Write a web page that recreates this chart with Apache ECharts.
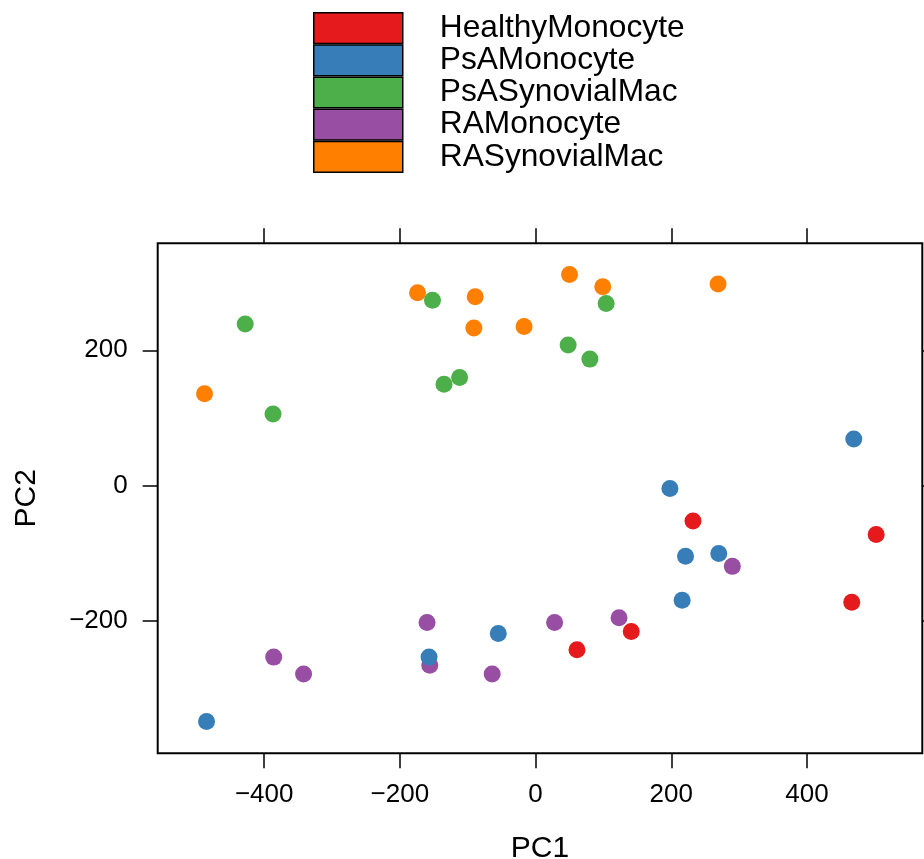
<!DOCTYPE html>
<html>
<head>
<meta charset="utf-8">
<script src="https://cdn.jsdelivr.net/npm/echarts@6/dist/echarts.min.js"></script>
<style>
  html, body { margin: 0; padding: 0; background: #fff; }
  #chart { width: 924px; height: 859px; }
</style>
</head>
<body>
<div id="chart"></div>
<script>
// groups in legend order
const groups = ['HealthyMonocyte', 'PsAMonocyte', 'PsASynovialMac', 'RAMonocyte', 'RASynovialMac'];
const colors = ['#E41A1C', '#377EB8', '#4DAF4A', '#984EA3', '#FF7F00'];

// [PC1, PC2] per sample
const healthyMonocyte = [[232, -52], [502, -72], [466, -172], [141, -215], [61, -242]];
const psaMonocyte = [[469, 69], [198, -4], [221, -104], [270, -100], [216, -169], [-55, -218], [-157, -253], [-485, -348]];
const psaSynovialMac = [[-428, 239], [-387, 106], [-152, 274], [-135, 150], [-112, 160], [48, 208], [80, 187], [104, 269]];
const raMonocyte = [[290, -119], [123, -195], [28, -202], [-160, -202], [-156, -265], [-64, -278], [-386, -253], [-342, -278]];
const raSynovialMac = [[-488, 136], [-174, 285], [-89, 279], [-91, 233], [-17, 235], [50, 312], [99, 294], [269, 298]];

const groupData = [healthyMonocyte, psaMonocyte, psaSynovialMac, raMonocyte, raSynovialMac];

const xTicks = [-400, -200, 0, 200, 400];
const yTicks = [-200, 0, 200];

const FONT = 'Liberation Sans';
const minusFmt = (v) => (v < 0 ? '\u2212' + Math.abs(v) : String(v));

const chart = echarts.init(document.getElementById('chart'), null, { renderer: 'canvas' });

// draw order: orange, green first so the monocytes sit on top
const drawOrder = [4, 2, 3, 1, 0];

const tickStyle = { color: '#000', width: 1.5 };

const option = {
  animation: false,
  textStyle: { fontFamily: FONT },
  color: colors,
  legend: {
    data: groups,
    orient: 'vertical',
    left: 313,
    top: 12,
    icon: 'rect',
    itemWidth: 89,
    itemHeight: 30.7,
    itemGap: 0,
    padding: 0,
    selectedMode: false,
    itemStyle: { borderColor: '#000', borderWidth: 1.5 },
    textStyle: { fontFamily: FONT, fontSize: 31.7, color: '#000', lineHeight: 30.7, padding: [0, 0, 0, 32] }
  },
  grid: {
    left: 157.7,
    top: 243.3,
    right: 1.7,
    bottom: 105.7,
    show: true,
    borderColor: '#000',
    borderWidth: 2,
    containLabel: false,
    outerBoundsMode: 'none'
  },
  xAxis: [
    {
      type: 'value',
      min: -557,
      max: 570,
      name: 'PC1',
      nameLocation: 'middle',
      nameGap: 80,
      nameTextStyle: { fontFamily: FONT, fontSize: 30, color: '#000' },
      splitLine: { show: false },
      axisLine: { show: false, onZero: false },
      axisTick: { show: true, length: 15, lineStyle: tickStyle, customValues: xTicks },
      axisLabel: { fontFamily: FONT, fontSize: 26, color: '#000', margin: 29, formatter: minusFmt, customValues: xTicks }
    },
    {
      type: 'value',
      position: 'top',
      min: -557,
      max: 570,
      splitLine: { show: false },
      axisLine: { show: false, onZero: false },
      axisTick: { show: true, length: 15, lineStyle: tickStyle, customValues: xTicks },
      axisLabel: { show: false }
    }
  ],
  yAxis: [
    {
      type: 'value',
      min: -395,
      max: 358,
      name: 'PC2',
      nameLocation: 'middle',
      nameGap: 116,
      nameRotate: 90,
      nameTextStyle: { fontFamily: FONT, fontSize: 30, color: '#000' },
      splitLine: { show: false },
      axisLine: { show: false, onZero: false },
      axisTick: { show: true, length: 15, lineStyle: tickStyle, customValues: yTicks },
      axisLabel: { fontFamily: FONT, fontSize: 26, color: '#000', margin: 30, formatter: minusFmt, customValues: yTicks }
    },
    {
      type: 'value',
      position: 'right',
      min: -395,
      max: 358,
      splitLine: { show: false },
      axisLine: { show: false, onZero: false },
      axisTick: { show: true, length: 15, lineStyle: tickStyle, customValues: yTicks },
      axisLabel: { show: false }
    }
  ],
  series: drawOrder.map((i) => ({
    name: groups[i],
    type: 'scatter',
    xAxisIndex: 0,
    yAxisIndex: 0,
    symbol: 'circle',
    symbolSize: 17,
    itemStyle: { color: colors[i], opacity: 1 },
    emphasis: { disabled: true },
    data: groupData[i]
  }))
};

chart.setOption(option);
</script>
</body>
</html>
